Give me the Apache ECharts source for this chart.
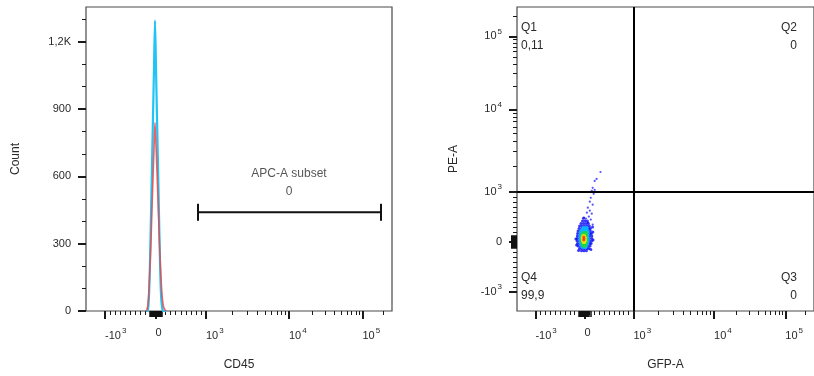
<!DOCTYPE html>
<html><head><meta charset="utf-8">
<script src="https://cdn.jsdelivr.net/npm/echarts@6/dist/echarts.min.js"></script>
<style>html,body{margin:0;padding:0;background:#fff}#c{width:814px;height:376px}</style>
</head><body><div id="c"></div>
<script>
// ---- Histogram (CD45, raw intensity) ----
const cd45Bins   = [-190,-170,-150,-130,-110,-90,-70,-50,-30,-10,10,30,50,70,90,110,130,150,170,190,210];
const countCyan  = [0,0,5,60,210,420,640,860,1080,1295,1080,860,640,420,210,70,15,0,0,0,0];
const countRed   = [0,5,30,90,190,310,450,590,720,840,740,620,490,360,240,140,70,30,12,4,0];
const countTicks = [0,300,600,900,1200];
const countTickLabels = ['0','300','600','900','1,2K'];
const countMinor = [100,200,400,500,700,800,1000,1100,1300];
const countMax = 1355;
// ---- biexponential axis ticks ----
const biexTicks = [-1000,0,1000,10000,100000];
const biexTickLabels = ['-10^3','0','10^3','10^4','10^5'];
// ---- gates ----
const histGate = {name:'APC-A subset', pct:'0', from:842, to:188000, level:440, labelAt:10000};
const quadGate = {x:1000, y:1000};
const quadNames = ['Q1','Q2','Q3','Q4'];
const quadPcts  = ['0,11','0','0','99,9'];
// ---- dot plot (GFP-A, PE-A raw) by density level ----
const dotsBlue = [
[-40,420],[10,420],[60,420],
[-70,370],[-20,370],[30,370],[80,370],
[-100,320],[-50,320],[0,320],[50,320],[100,320],
[-110,270],[-60,270],[-10,270],[40,270],[90,270],[120,270],
[-130,220],[-80,220],[-30,220],[20,220],[70,220],[120,220],
[-140,170],[-90,170],[-40,170],[10,170],[60,170],[110,170],[140,170],
[-145,120],[-95,120],[-45,120],[5,120],[55,120],[105,120],[150,120],
[-150,70],[-100,70],[-50,70],[0,70],[50,70],[100,70],[150,70],
[-150,20],[-100,20],[-50,20],[0,20],[50,20],[100,20],[145,20],
[-140,-30],[-90,-30],[-40,-30],[10,-30],[60,-30],[110,-30],[135,-30],
[-130,-80],[-80,-80],[-30,-80],[20,-80],[70,-80],[115,-80],
[-100,-130],[-50,-130],[0,-130],[50,-130],[90,-130],
[-60,-175],[-10,-175],[40,-175],
[-175,60],[170,200],[-20,470],[130,-150],[-120,-170],[165,300],[-160,-60],[175,40]
];
const dotsTail = [
[327,1697],[248,1410],[208,1336],[168,1111],[208,1054],[149,1027],[228,1000],[188,960],
[129,881],[109,802],[168,743],[69,683],[109,624],[50,584],[149,564],[89,505],[30,465],
[129,446],[69,386],[-10,485],[168,347]
];
const dotsCyan = [
[-30,290],[10,290],[50,290],
[-60,250],[-20,250],[20,250],[60,250],
[-80,210],[-40,210],[0,210],[40,210],[75,210],
[-85,170],[-45,170],[-5,170],[35,170],[75,170],
[-90,130],[-50,130],[-10,130],[30,130],[70,130],
[-90,90],[-50,90],[-10,90],[30,90],[75,90],
[-90,50],[-50,50],[-10,50],[30,50],[80,50],
[-85,10],[-45,10],[-5,10],[35,10],[75,10],
[-80,-30],[-40,-30],[0,-30],[40,-30],[65,-30],
[-70,-70],[-30,-70],[10,-70],[50,-70],
[-40,-110],[0,-110],[30,-110]
];
const dotsGreen = [
[-30,190],[5,190],[35,190],
[-55,155],[-20,155],[15,155],[45,155],
[-60,120],[-25,120],[10,120],[45,120],
[-65,85],[-30,85],[5,85],[45,85],
[-65,50],[-30,50],[5,50],[45,50],
[-60,15],[-25,15],[10,15],[45,15],
[-55,-20],[-20,-20],[15,-20],[40,-20],
[-45,-55],[-10,-55],[25,-55],
[-20,-85],[10,-85]
];
const dotsYellow = [
[-30,130],[0,130],[-45,95],[-15,95],[15,95],[-45,60],[-15,60],[20,60],
[-40,25],[-10,25],[20,25],[-25,-10],[5,-10]
];
const dotsRed = [[-15,100],[-10,70],[-15,40]];

// biexponential display transform (display units 0..1000 along the axis)
function biex(v){
  const a = Math.abs(v), s = v < 0 ? -1 : 1;
  let r;
  if (a <= 1000) r = 50.5 * a / 1000;
  else { const d = Math.log10(a) - 3; r = 50.5 + 83 * d - 4.75 * d * (d - 1); }
  return (69.5 + s * r) / 306 * 1000;
}
const biexMinorRaw = [], biexFineRaw = [];
for (let k = 1; k <= 9; k++) { biexMinorRaw.push(k*100, -k*100); biexFineRaw.push(k*10, -k*10, k*10+5, -k*10-5); }
biexFineRaw.push(0, 5, -5, 120, -120);
for (let k = 2; k <= 9; k++) { biexMinorRaw.push(k*1000, k*10000, -k*1000); }
biexMinorRaw.push(200000);
const biexMajorD = biexTicks.map(biex);
const biexMinorD = biexMinorRaw.map(biex).filter(d => d >= 0 && d <= 1000);
const biexFineD = biexFineRaw.map(biex);

function biexLabel(val){
  let idx = 0, best = 1e9;
  biexMajorD.forEach((d,i)=>{ if (Math.abs(d-val) < best){best=Math.abs(d-val); idx=i;} });
  const t = biexTickLabels[idx].split('^');
  return t.length > 1 ? '{b|' + t[0] + '}{s|' + t[1] + '}' : '{b|' + t[0] + '}';
}
const FONT = '"Liberation Sans", Arial, sans-serif';
const TXT = '#2a2a2a';
const rich = {
  b:{fontSize:11, fontFamily:FONT, color:TXT},
  s:{fontSize:8, fontFamily:FONT, color:TXT, padding:[0,0,10,1]}
};
const nameStyle = {fontSize:12, fontFamily:FONT, color:TXT};

function biexAxis(grid, isX, name){
  const base = {
    gridIndex:grid, type:'value', min:0, max:1000,
    axisLine:{show:false}, splitLine:{show:false}, position: isX ? 'bottom' : 'left'
  };
  const major = Object.assign({}, base, {
    name:name, nameLocation:'middle', nameGap: isX ? 48 : 57, nameTextStyle:nameStyle,
    axisTick:{show:true, customValues:biexMajorD, length:8, lineStyle:{color:'#1a1a1a', width:2}},
    axisLabel:{show:true, customValues:biexMajorD, formatter:biexLabel, rich:rich,
      align: isX ? 'left' : 'right', margin: isX ? 16 : 15}
  });
  const minor = Object.assign({}, base, {
    axisTick:{show:true, customValues:biexMinorD, length:4, lineStyle:{color:'#1a1a1a', width:1}},
    axisLabel:{show:false}
  });
  const fine = Object.assign({}, base, {
    axisTick:{show:true, customValues:biexFineD, length:6, lineStyle:{color:'#111', width:1.5}},
    axisLabel:{show:false}
  });
  return [major, minor, fine];
}

const xAxes = [].concat(
  biexAxis(0, true, 'CD45'),
  biexAxis(1, true, 'GFP-A')
);
const countAxisMajor = {
  gridIndex:0, type:'value', min:0, max:countMax, position:'left',
  name:'Count', nameLocation:'middle', nameGap:64, nameTextStyle:nameStyle,
  axisLine:{show:false}, splitLine:{show:false},
  axisTick:{show:true, customValues:countTicks, length:8, lineStyle:{color:'#1a1a1a', width:2}},
  axisLabel:{show:true, customValues:countTicks, margin:15, fontSize:11, fontFamily:FONT, color:TXT,
    formatter:(v)=> countTickLabels[countTicks.indexOf(v)] ?? ''}
};
const countAxisMinor = {
  gridIndex:0, type:'value', min:0, max:countMax, position:'left',
  axisLine:{show:false}, splitLine:{show:false},
  axisTick:{show:true, customValues:countMinor, length:4, lineStyle:{color:'#1a1a1a', width:1}},
  axisLabel:{show:false}
};
const yAxes = [countAxisMajor, countAxisMinor].concat(biexAxis(1, false, 'PE-A'));
// indices: xAxis 0-2 grid0, 3-5 grid1; yAxis 0-1 grid0, 2-4 grid1

const toXY = arr => arr.map(p => [biex(p[0]), biex(p[1])]);
function dots(arr, color, size){
  return {type:'scatter', xAxisIndex:3, yAxisIndex:2, data:toXY(arr), symbol:'circle',
    symbolSize:size || 3, itemStyle:{color:color}, silent:true, z:2};
}

const series = [
  {type:'line', xAxisIndex:0, yAxisIndex:0, data:cd45Bins.map((x,i)=>[biex(x), countCyan[i]]),
   symbol:'none', smooth:0.25, lineStyle:{color:'#22C3F5', width:2.2}, z:3},
  {type:'line', xAxisIndex:0, yAxisIndex:0, data:cd45Bins.map((x,i)=>[biex(x), countRed[i]]),
   symbol:'none', smooth:0.25, lineStyle:{color:'#EE4545', width:1.6, opacity:0.85}, z:4},
  {type:'line', xAxisIndex:0, yAxisIndex:0,
   data:[[biex(histGate.from), histGate.level],[biex(histGate.to), histGate.level]],
   symbol:'rect', symbolSize:[2,17], itemStyle:{color:'#111'}, lineStyle:{color:'#111', width:2}, z:5},
  {type:'scatter', xAxisIndex:0, yAxisIndex:0, data:[[biex(histGate.labelAt), histGate.level]],
   symbolSize:0, itemStyle:{color:'transparent'},
   label:{show:true, position:'top', distance:12, formatter: histGate.name + '\n' + histGate.pct,
     fontSize:12, fontFamily:FONT, color:TXT, lineHeight:18, align:'center'}, z:5},
  dots(dotsTail, '#2a2aff', 2.2),
  dots(dotsBlue, '#0a0af5'),
  dots(dotsCyan, '#00c4ff'),
  dots(dotsGreen, '#22d640'),
  dots(dotsYellow, '#f2ee10'),
  dots(dotsRed, '#ff2a10'),
  {type:'line', xAxisIndex:3, yAxisIndex:2, data:[], silent:true, z:6,
   markLine:{silent:true, symbol:'none', animation:false, label:{show:false},
     lineStyle:{color:'#000', width:2, type:'solid'},
     data:[{xAxis:biex(quadGate.x)}, {yAxis:biex(quadGate.y)}]}}
];

const qStyle = {fontSize:12, fontFamily:FONT, fill:TXT, lineHeight:17.5};
const graphic = [
  {type:'text', x:521, y:19, style:Object.assign({text:quadNames[0]+'\n'+quadPcts[0], align:'left'}, qStyle)},
  {type:'text', x:797, y:19, style:Object.assign({text:quadNames[1]+'\n'+quadPcts[1], align:'right'}, qStyle)},
  {type:'text', x:797, y:269, style:Object.assign({text:quadNames[2]+'\n'+quadPcts[2], align:'right'}, qStyle)},
  {type:'text', x:521, y:269, style:Object.assign({text:quadNames[3]+'\n'+quadPcts[3], align:'left'}, qStyle)}
];

const chart = echarts.init(document.getElementById('c'), null, {renderer:'canvas'});
chart.setOption({
  animation:false,
  backgroundColor:'#fff',
  grid:[
    {left:86, top:7, width:306, height:306, show:true, borderColor:'#4a4a4a', borderWidth:1.2, containLabel:false},
    {left:517, top:7, width:306, height:306, show:true, borderColor:'#4a4a4a', borderWidth:1.2, containLabel:false}
  ],
  xAxis:xAxes, yAxis:yAxes, series:series, graphic:graphic
});
</script></body></html>
